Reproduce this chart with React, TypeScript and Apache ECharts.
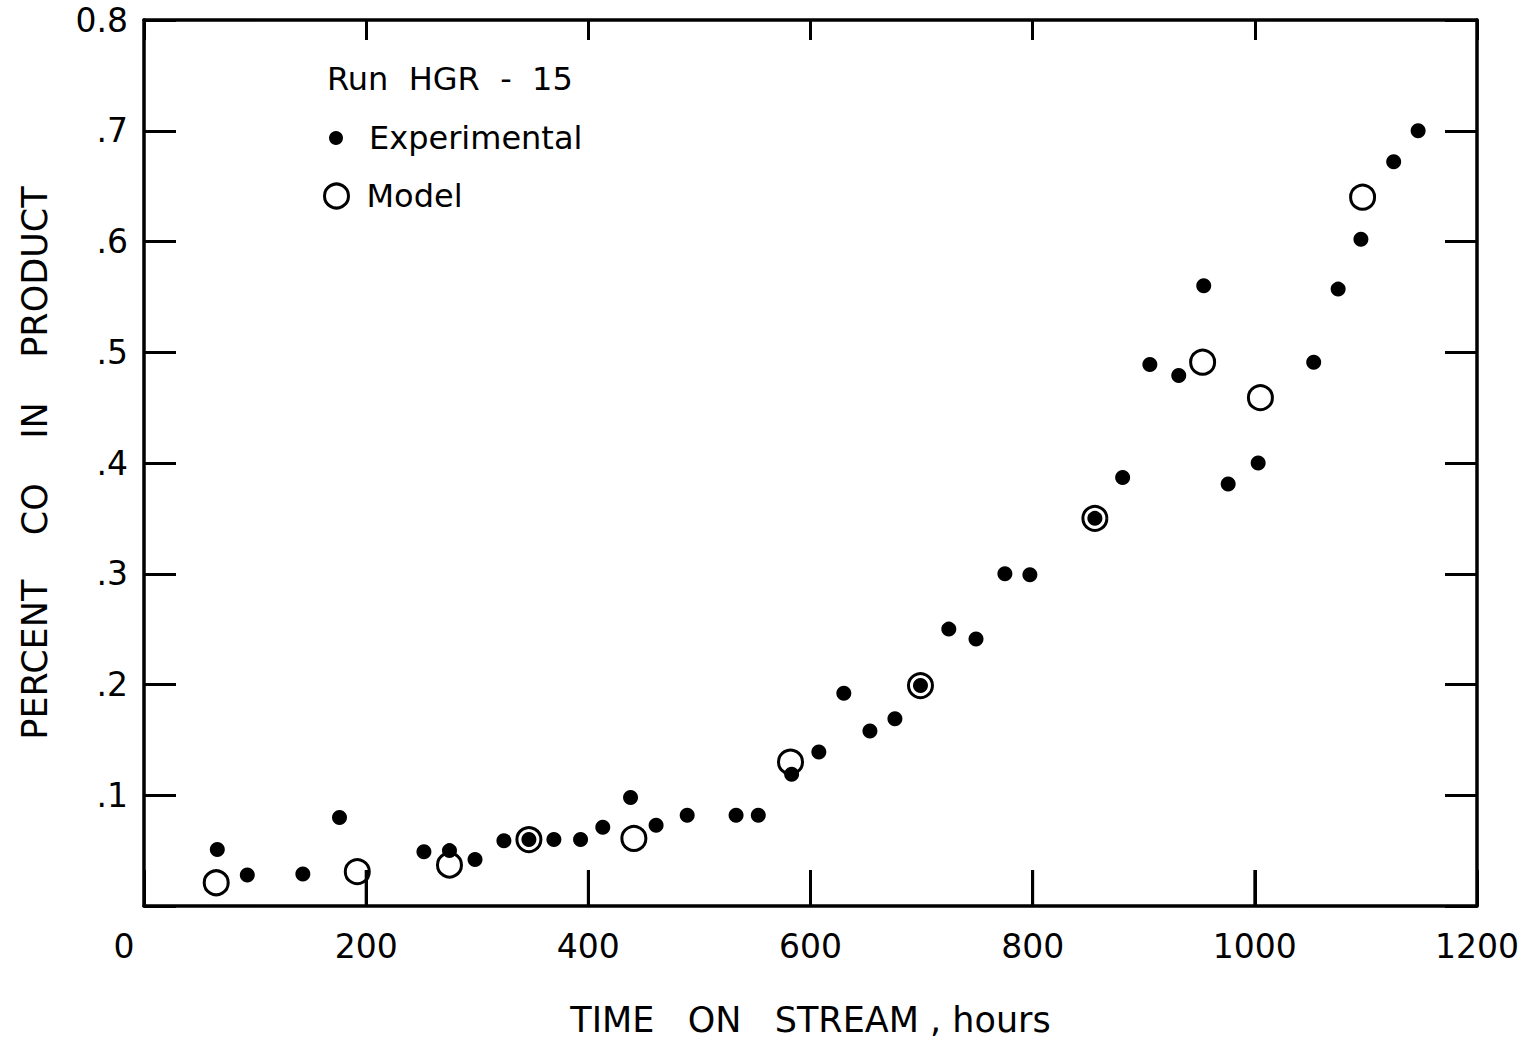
import React, { useEffect, useRef } from "react";
import * as echarts from "echarts";

// Experimental data (filled dots)
const expHours = [66, 93, 143, 176, 252, 275, 298, 324, 346.5, 369, 393, 413, 438, 461, 489, 533, 553, 583, 607.5, 630, 653.5, 676, 699, 724.5, 749, 775, 797.5, 856, 881, 905.5, 931.5, 954, 976, 1003, 1053, 1075, 1095.5, 1125, 1147];
const expCO = [0.051, 0.028, 0.029, 0.080, 0.049, 0.050, 0.042, 0.059, 0.060, 0.060, 0.060, 0.071, 0.098, 0.073, 0.082, 0.082, 0.082, 0.119, 0.139, 0.192, 0.158, 0.169, 0.199, 0.250, 0.241, 0.300, 0.299, 0.350, 0.387, 0.489, 0.479, 0.560, 0.381, 0.400, 0.491, 0.557, 0.602, 0.672, 0.700];

// Model data (open circles)
const modelHours = [65, 192, 275, 346.5, 441, 582, 699, 856, 953, 1005, 1097];
const modelCO = [0.021, 0.031, 0.037, 0.060, 0.061, 0.130, 0.199, 0.350, 0.491, 0.459, 0.640];

const xTicks = [0, 200, 400, 600, 800, 1000, 1200];
const yTickLabels = ["", ".1", ".2", ".3", ".4", ".5", ".6", ".7", "0.8"];

const FONT = "DejaVu Sans";

const mkLine = (show: boolean) => ({ show, onZero: false, lineStyle: { color: "#000", width: 3.5 } });
const mkTick = (length: number) => ({ show: true, inside: true, length, lineStyle: { color: "#000", width: 3 } });

export default function App() {
  const ref = useRef<HTMLDivElement>(null);
  useEffect(() => {
    if (!ref.current) return;
    const chart = echarts.init(ref.current, null, { renderer: "svg" });
    const expData = expHours.map((h, i) => [h, expCO[i]]);
    const modelData = modelHours.map((h, i) => [h, modelCO[i]]);
    // inner tick marks rising from the bottom axis, positioned through the x scale
    const bottomTickData = xTicks.slice(1, -1).map((v) => [v, 0]);
    chart.setOption({
      animation: false,
      backgroundColor: "#fff",
      textStyle: { fontFamily: FONT, color: "#000" },
      title: {
        text: "Run  HGR  -  15",
        left: 322,
        top: 58,
        textStyle: { fontFamily: FONT, fontSize: 32, fontWeight: "normal", color: "#000" },
      },
      legend: [
        {
          data: [{ name: "Experimental", icon: "circle", itemStyle: { color: "#000", opacity: 1 } }],
          left: 324,
          top: 113,
          itemWidth: 14,
          itemHeight: 14,
          textStyle: { fontFamily: FONT, fontSize: 32, color: "#000", lineHeight: 40, padding: [0, 0, 0, 21] },
          selectedMode: false,
        },
        {
          data: [{ name: "Model", icon: "circle", itemStyle: { color: "transparent", borderColor: "#000", borderWidth: 3, opacity: 1 } }],
          left: 318,
          top: 171,
          itemWidth: 24,
          itemHeight: 24,
          textStyle: { fontFamily: FONT, fontSize: 32, color: "#000", lineHeight: 40, padding: [0, 0, 0, 13] },
          selectedMode: false,
        },
      ],
      grid: { left: 144, right: 45, top: 20, bottom: 134, containLabel: false },
      xAxis: [
        {
          type: "value",
          position: "bottom",
          min: 0,
          max: 1200,
          interval: 200,
          axisLine: mkLine(true),
          splitLine: { show: false },
          axisTick: mkTick(36),
          axisLabel: {
            show: true,
            margin: 24,
            fontSize: 33,
            fontFamily: FONT,
            color: "#000",
            showMinLabel: true,
            showMaxLabel: true,
            formatter: (v: number) => (v === 0 ? "{z|0}" : String(xTicks.find((t) => t === v) ?? v)),
            rich: { z: { fontSize: 33, fontFamily: FONT, color: "#000", padding: [0, 40, 0, 0] } },
          },
          name: "TIME   ON   STREAM , hours",
          nameLocation: "middle",
          nameGap: 96,
          nameTextStyle: { fontFamily: FONT, fontSize: 35, color: "#000" },
        },
        {
          type: "value",
          position: "top",
          min: 0,
          max: 1200,
          interval: 200,
          axisLine: mkLine(true),
          splitLine: { show: false },
          axisTick: mkTick(20),
          axisLabel: { show: false },
        },
      ],
      yAxis: [
        {
          type: "value",
          position: "left",
          min: 0,
          max: 0.8,
          interval: 0.1,
          axisLine: mkLine(true),
          splitLine: { show: false },
          axisTick: mkTick(32),
          axisLabel: {
            show: true,
            margin: 16,
            fontSize: 33,
            fontFamily: FONT,
            color: "#000",
            formatter: (v: number) => yTickLabels[Math.round(v * 10)] ?? "",
          },
          name: "PERCENT    CO    IN    PRODUCT",
          nameLocation: "middle",
          nameRotate: 90,
          nameGap: 92,
          nameTextStyle: { fontFamily: FONT, fontSize: 35, color: "#000" },
        },
        {
          type: "value",
          position: "right",
          min: 0,
          max: 0.8,
          interval: 0.1,
          axisLine: mkLine(true),
          splitLine: { show: false },
          axisTick: mkTick(32),
          axisLabel: { show: false },
        },
      ],
      series: [
        {
          name: "Experimental",
          type: "scatter",
          xAxisIndex: 0,
          yAxisIndex: 0,
          data: expData,
          symbol: "circle",
          symbolSize: 15,
          itemStyle: { color: "#000", opacity: 1 },
          z: 3,
        },
        {
          name: "Model",
          type: "scatter",
          xAxisIndex: 0,
          yAxisIndex: 0,
          data: modelData,
          symbol: "circle",
          symbolSize: 24,
          itemStyle: { color: "transparent", borderColor: "#000", borderWidth: 3, opacity: 1 },
          z: 4,
        },
        {
          name: "bottomTicks",
          type: "custom",
          xAxisIndex: 0,
          yAxisIndex: 0,
          data: bottomTickData,
          encode: { x: 0, y: 1 },
          silent: true,
          clip: false,
          z: 10,
          renderItem: (params: any, api: any) => {
            const p = api.coord([api.value(0), api.value(1)]);
            return {
              type: "line",
              shape: { x1: p[0], y1: p[1], x2: p[0], y2: p[1] - 36 },
              style: { stroke: "#000", lineWidth: 3 },
            };
          },
        },
      ],
    });
    return () => chart.dispose();
  }, []);
  return <div ref={ref} style={{ width: 1522, height: 1042, position: "absolute", left: 0, top: 0, background: "#fff" }} />;
}
